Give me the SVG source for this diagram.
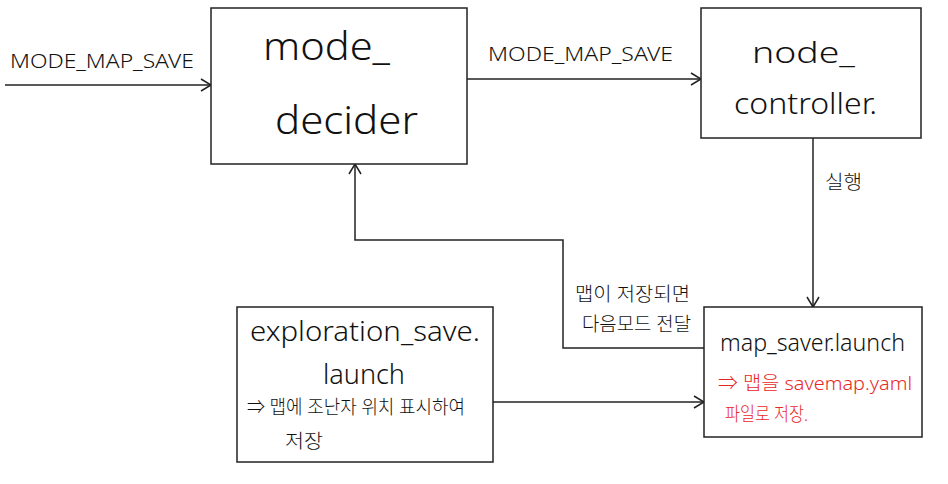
<svg xmlns="http://www.w3.org/2000/svg" width="948" height="484" viewBox="0 0 948 484">
<style>
.box{fill:#fff;stroke:#222;stroke-width:1.5}
.ln{fill:none;stroke:#222;stroke-width:1.5}
.t{font-family:"Noto Sans","Noto Sans CJK KR",sans-serif;fill:#111;font-weight:300}
.big{font-size:38px}
.mid{font-size:30px}
.ex{font-size:27px}
.sm{font-size:19px}
.lab{font-size:20px}
.red{fill:#e8271f}
</style>
<defs>
<marker id="ah" markerWidth="14" markerHeight="14" refX="12" refY="7" orient="auto" markerUnits="userSpaceOnUse">
<path d="M2,1 L12,7 L2,13" fill="none" stroke="#222" stroke-width="1.5"/>
</marker>
</defs>
<rect width="948" height="484" fill="#fff"/>
<g id="connectors">
<line class="ln" x1="5" y1="85" x2="211" y2="85" marker-end="url(#ah)"/>
<text class="t lab" x="10" y="68" textLength="184" lengthAdjust="spacingAndGlyphs">MODE_MAP_SAVE</text>
<line class="ln" x1="467" y1="79" x2="701" y2="79" marker-end="url(#ah)"/>
<text class="t lab" x="488" y="61" textLength="185" lengthAdjust="spacingAndGlyphs">MODE_MAP_SAVE</text>
<line class="ln" x1="813" y1="138" x2="813" y2="307" marker-end="url(#ah)"/>
<text class="t sm" x="825" y="189" textLength="37" lengthAdjust="spacingAndGlyphs">실행</text>
<polyline class="ln" points="704,348 563,348 563,240 355,240 355,164" marker-end="url(#ah)"/>
<text class="t sm" x="575" y="301" textLength="115" lengthAdjust="spacingAndGlyphs">맵이 저장되면</text>
<text class="t sm" x="582" y="331" textLength="109" lengthAdjust="spacingAndGlyphs">다음모드 전달</text>
<line class="ln" x1="493" y1="402" x2="704" y2="402" marker-end="url(#ah)"/>
</g>
<g id="mode_decider">
<rect class="box" x="211" y="8" width="256" height="156"/>
<text class="t big" x="263" y="60" textLength="127" lengthAdjust="spacingAndGlyphs">mode_</text>
<text class="t big" x="275" y="134" textLength="143" lengthAdjust="spacingAndGlyphs">decider</text>
</g>
<g id="node_controller">
<rect class="box" x="701" y="8" width="220" height="130"/>
<text class="t mid" x="752" y="63" textLength="103" lengthAdjust="spacingAndGlyphs">node_</text>
<text class="t mid" x="734" y="114" textLength="143" lengthAdjust="spacingAndGlyphs">controller.</text>
</g>
<g id="exploration_save">
<rect class="box" x="237" y="307" width="256" height="155"/>
<text class="t ex" x="250" y="341" textLength="230" lengthAdjust="spacingAndGlyphs">exploration_save.</text>
<text class="t ex" x="323" y="384" textLength="82" lengthAdjust="spacingAndGlyphs">launch</text>
<text class="t sm" x="247" y="414" textLength="218" lengthAdjust="spacingAndGlyphs">⇒ 맵에 조난자 위치 표시하여</text>
<text class="t sm" x="285" y="448" textLength="38" lengthAdjust="spacingAndGlyphs">저장</text>
</g>
<g id="map_saver">
<rect class="box" x="704" y="307" width="218" height="130"/>
<text class="t" x="720" y="351" style="font-size:23px" textLength="185" lengthAdjust="spacingAndGlyphs">map_saver.launch</text>
<text class="t sm red" x="718" y="390" textLength="194" lengthAdjust="spacingAndGlyphs">⇒ 맵을  savemap.yaml</text>
<text class="t sm red" x="725" y="421" textLength="83" lengthAdjust="spacingAndGlyphs">파일로 저장.</text>
</g>
</svg>
